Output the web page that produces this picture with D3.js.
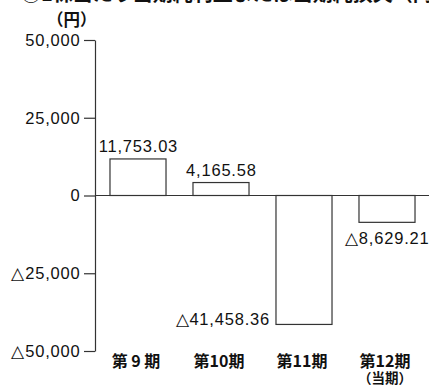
<!DOCTYPE html>
<html>
<head>
<meta charset="utf-8">
<script src="https://cdn.jsdelivr.net/npm/d3@7"></script>
<style>
  html, body { margin: 0; padding: 0; background: #fff; }
  svg { display: block; }
  text { font-family: "Liberation Sans", Arial, "Noto Sans CJK JP", sans-serif; fill: #111; }
  .num { font-family: "Liberation Sans", Arial, sans-serif; letter-spacing: 0.8px; }
  .jp { font-family: "Noto Sans CJK JP", "Liberation Sans", sans-serif; }
</style>
</head>
<body>
<svg id="chart" width="429" height="385"></svg>
<script>
// Net income (loss) per share, yen
const periods = ["第 9 期", "第10期", "第11期", "第12期"];
const periodNotes = ["", "", "", "（当期）"];
const values = [11753.03, 4165.58, -41458.36, -8629.21];
const tickValues = [50000, 25000, 0, -25000, -50000];

const fmt = v => (v < 0 ? "△" : "") + d3.format(",.2f")(Math.abs(v));
const fmtTick = v => (v < 0 ? "△" : "") + d3.format(",")(Math.abs(v));

const svg = d3.select("#chart");
const ink = "#333";

const y = d3.scaleLinear().domain([-50000, 50000]).range([351, 40]);
const x = d3.scaleBand().domain(periods).range([96.5, 428.5])
  .paddingInner(0.325).paddingOuter(0.1625);

// Title (runs off the top edge)
svg.append("text").attr("class", "jp")
  .attr("x", 21).attr("y", 1)
  .attr("font-size", 20).attr("font-weight", "bold")
  .text("①1株当たり当期純利益または当期純損失（円）");

// Unit
svg.append("text").attr("class", "jp")
  .attr("x", 47).attr("y", 25.5)
  .attr("font-size", 16.5).attr("font-weight", 600)
  .text("（円）");

// Vertical axis
const axisX = 95;
const yAxis = d3.axisLeft(y).tickValues(tickValues).tickFormat(fmtTick)
  .tickSize(11).tickSizeOuter(0).tickPadding(3.5);
const ga = svg.append("g").attr("transform", `translate(${axisX},0)`).call(yAxis);
ga.select(".domain").attr("stroke", ink).attr("stroke-width", 1.2);
ga.selectAll(".tick line").attr("stroke", ink).attr("stroke-width", 1.2);
ga.selectAll(".tick text")
  .attr("class", "num")
  .attr("font-size", 16.5)
  .attr("fill", "#111");

// Zero line
svg.append("line")
  .attr("x1", axisX).attr("x2", 429)
  .attr("y1", y(0)).attr("y2", y(0))
  .attr("stroke", ink).attr("stroke-width", 1.2);

// Bars
svg.append("g").selectAll("rect").data(values).join("rect")
  .attr("x", (d, i) => x(periods[i]))
  .attr("width", x.bandwidth())
  .attr("y", d => y(Math.max(0, d)))
  .attr("height", d => Math.abs(y(d) - y(0)))
  .attr("fill", "#fff")
  .attr("stroke", ink).attr("stroke-width", 1.2);

// Value labels
const labels = svg.append("g").attr("font-size", 16.5);
values.forEach((v, i) => {
  const cx = x(periods[i]) + x.bandwidth() / 2;
  const t = labels.append("text").attr("class", "num").text(fmt(v));
  if (i < 2) {
    t.attr("x", cx + 0.4).attr("y", y(v) - 7).attr("text-anchor", "middle");
  } else if (i === 2) {
    t.attr("x", x(periods[i]) - 6).attr("y", y(v) + 1).attr("text-anchor", "end");
  } else {
    t.attr("x", 429.5).attr("y", y(v) + 22).attr("text-anchor", "end");
  }
});

// Category labels
const cats = svg.append("g")
  .attr("font-weight", "bold").attr("text-anchor", "middle");
periods.forEach((p, i) => {
  const cx = x(p) + x.bandwidth() / 2 - 2;
  cats.append("text").attr("class", "jp").attr("font-size", 16)
    .attr("x", cx).attr("y", 366.5).text(p);
  if (periodNotes[i]) {
    cats.append("text").attr("class", "jp").attr("font-size", 13.5)
      .attr("x", cx).attr("y", 382.5).text(periodNotes[i]);
  }
});
</script>
</body>
</html>
